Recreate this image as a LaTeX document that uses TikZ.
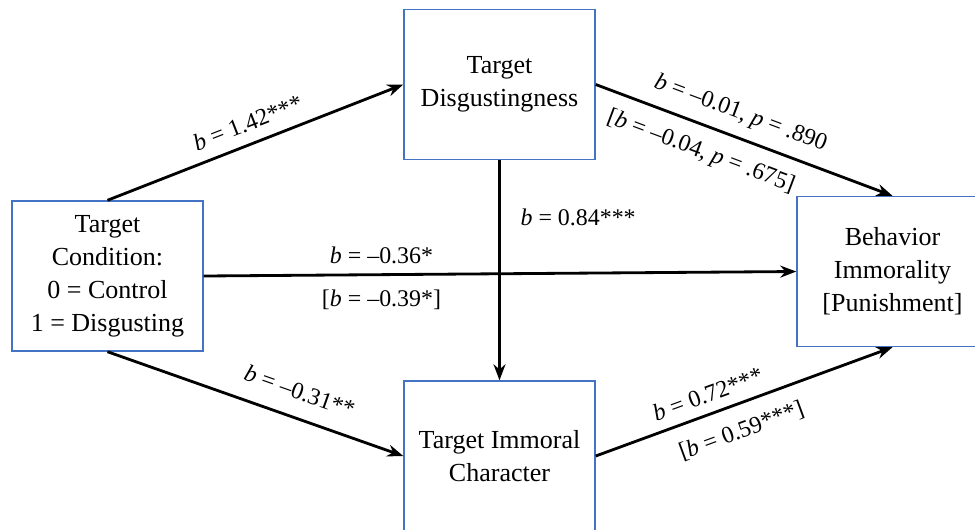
\documentclass[tikz,border=0pt]{standalone}
\usepackage{fontspec}
\setmainfont{Liberation Serif}
\usetikzlibrary{arrows.meta}
\definecolor{bxblue}{RGB}{68,114,196}
\tikzset{
  vb/.style = {draw=bxblue, fill=white, text=black, align=center,
    minimum width=4.775cm, minimum height=3.75cm, inner sep=0pt,
    line width=1pt, font=\fontsize{18.5}{23.5}\selectfont},
  arr/.style = {-{Stealth[length=4mm, width=3mm]}, line width=2pt},
  cf/.style = {font=\fontsize{17}{21}\selectfont, inner sep=2pt}
}

\begin{document}
\begin{tikzpicture}[x=0.025cm, y=-0.025cm]
  \useasboundingbox (0,0) rectangle (975,529);
  \node [vb] (cond) at (107.5,276) {Target\\Condition:\\0 = Control\\1 = Disgusting};
  \node [vb] (disg) at (499.5,84.5) {Target\\Disgustingness};
  \node [vb] (immo) at (499.5,456) {Target Immoral\\Character};
  \node [vb] (beh) at (892.5,271.5) {Behavior\\Immorality\\{[Punishment]}};
  \draw [arr] (cond.north) -- node [cf, sloped, above=6pt, pos=0.5] {\textit{b} = 1.42***} (disg.west);
  \draw [arr] (disg.east)
    -- node [cf, sloped, above=6pt, pos=0.46] {\textit{b} = –0.01, \textit{p} = .890}
       node [cf, sloped, below=8pt, pos=0.385] {[\textit{b} = –0.04, \textit{p} = .675]} (beh.north);
  \draw [arr] (cond.east)
    -- node [cf, above=5pt, pos=0.3] {\textit{b} = –0.36*}
       node [cf, below=8pt, pos=0.3] {[\textit{b} = –0.39*]} (beh.west);
  \draw [arr] (disg.south) -- node [cf, right=12pt, pos=0.26] {\textit{b} = 0.84***} (immo.north);
  \draw [arr] (cond.south) -- node [cf, sloped, above=10pt, pos=0.62] {\textit{b} = –0.31**} (immo.west);
  \draw [arr] (immo.east)
    -- node [cf, sloped, above=5pt, pos=0.4] {\textit{b} = 0.72***}
       node [cf, sloped, below=9pt, pos=0.46] {[\textit{b} = 0.59***]} (beh.south);
\end{tikzpicture}
\end{document}
